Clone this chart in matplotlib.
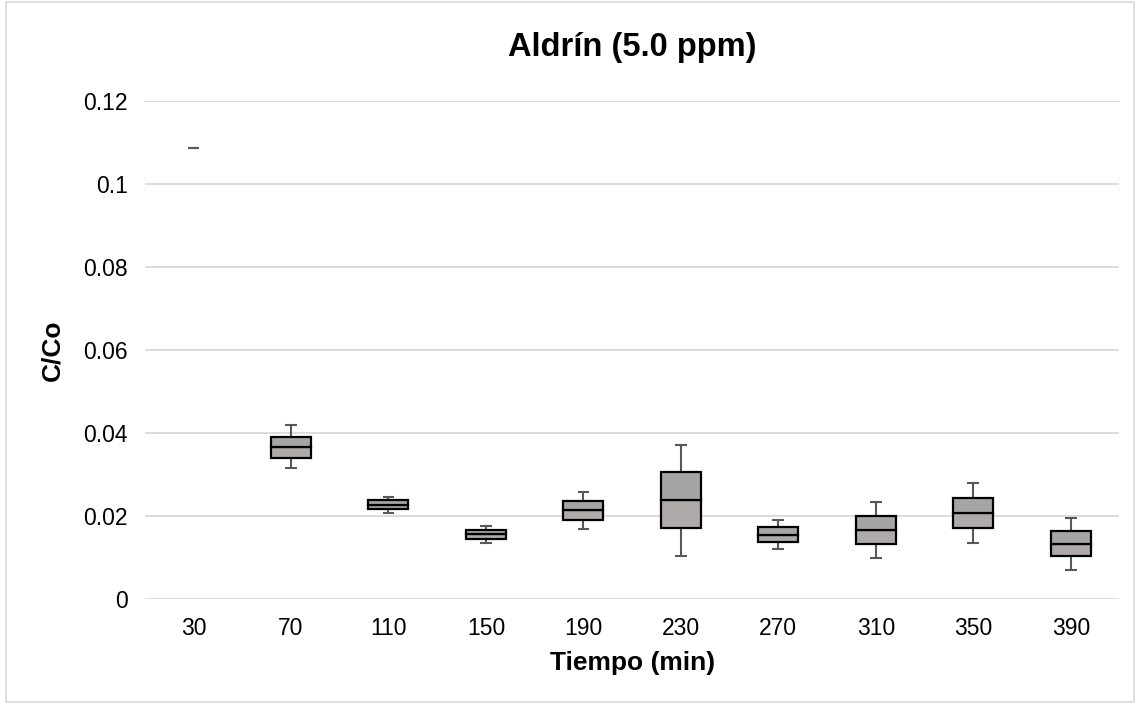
import numpy as np
import matplotlib.pyplot as plt
from matplotlib.patches import Rectangle

plt.rcParams['font.family'] = ['Liberation Sans', 'DejaVu Sans']

# Datos (C/Co por tiempo)
tiempos = ['30', '70', '110', '150', '190', '230', '270', '310', '350', '390']
bigote_inf = [0.1086, 0.0316, 0.0207, 0.0134, 0.0169, 0.0103, 0.0120, 0.0100, 0.0135, 0.0071]
q1 = [0.1086, 0.0340, 0.0217, 0.0145, 0.0191, 0.0171, 0.0137, 0.0133, 0.0170, 0.0103]
mediana = [0.1086, 0.0366, 0.0227, 0.0156, 0.0214, 0.0239, 0.0155, 0.0167, 0.0207, 0.0133]
q3 = [0.1086, 0.0391, 0.0238, 0.0167, 0.0237, 0.0305, 0.0173, 0.0200, 0.0243, 0.0164]
bigote_sup = [0.1086, 0.0418, 0.0247, 0.0176, 0.0258, 0.0372, 0.0191, 0.0234, 0.0279, 0.0195]

fig = plt.figure(figsize=(11.4, 7.04), dpi=100)
ax = fig.add_axes([0.127, 0.149, 0.855, 0.708])

x = np.arange(len(tiempos))
ancho = 0.41
cap = 0.12
gris_bigote = '#595959'

for i in x:
    # bigotes y topes
    ax.vlines(i, bigote_inf[i], q1[i], color=gris_bigote, lw=1.5, zorder=3)
    ax.vlines(i, q3[i], bigote_sup[i], color=gris_bigote, lw=1.5, zorder=3)
    ax.hlines([bigote_inf[i], bigote_sup[i]], i - cap / 2, i + cap / 2,
              color=gris_bigote, lw=1.5, zorder=3)
    if q3[i] > q1[i]:
        # caja en dos tonos
        ax.bar(i, mediana[i] - q1[i], bottom=q1[i], width=ancho, color='#aeaaaa',
               edgecolor='black', lw=1.6, zorder=4)
        ax.bar(i, q3[i] - mediana[i], bottom=mediana[i], width=ancho, color='#a5a5a5',
               edgecolor='black', lw=1.6, zorder=4)

ax.set_xlim(-0.5, len(tiempos) - 0.5)
ax.set_ylim(0, 0.12)
ax.set_yticks([0, 0.02, 0.04, 0.06, 0.08, 0.1, 0.12])
ax.set_yticklabels(['0', '0.02', '0.04', '0.06', '0.08', '0.1', '0.12'])
ax.set_xticks(x)
ax.set_xticklabels(tiempos)
ax.tick_params(length=0, labelsize=16.5)
ax.tick_params(axis='x', pad=13)
ax.tick_params(axis='y', pad=12)
ax.grid(axis='y', color='#d9d9d9', lw=1.3)
ax.set_axisbelow(True)
for s in ax.spines.values():
    s.set_visible(False)

ax.set_title('Aldrín (5.0 ppm)', fontsize=23.5, fontweight='bold', pad=32)
ax.set_xlabel('Tiempo (min)', fontsize=19, fontweight='bold', labelpad=8)
ax.set_ylabel('C/Co', fontsize=19, fontweight='bold', labelpad=14)

fig.patches.append(Rectangle((0.005, 0.003), 0.99, 0.994, transform=fig.transFigure,
                             fill=False, edgecolor='#d9d9d9', lw=1.2))

fig.savefig('out.png', dpi=100)
